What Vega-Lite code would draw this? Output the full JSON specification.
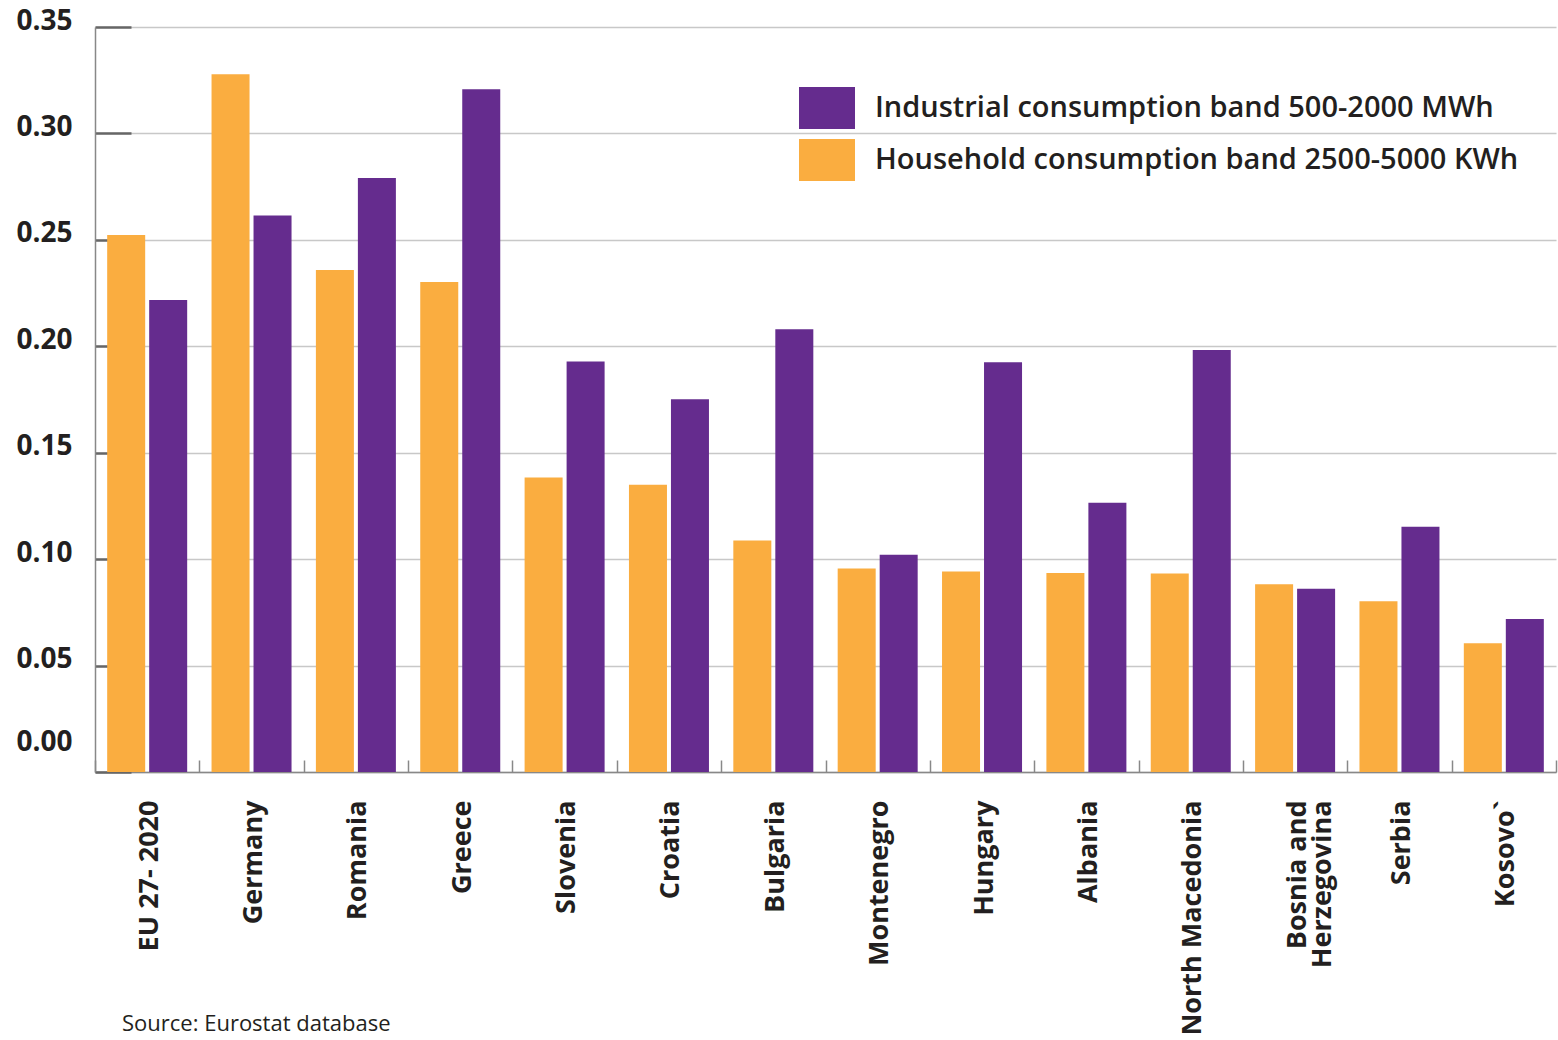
{
  "$schema": "https://vega.github.io/schema/vega-lite/v6.json",
  "width": 1461,
  "height": 745,
  "autosize": {"type": "none"},
  "padding": {"left": 95, "top": 27, "right": 2, "bottom": 268},
  "background": "#ffffff",
  "title": {
    "text": "Source: Eurostat database",
    "orient": "bottom",
    "anchor": "start",
    "frame": "group",
    "dx": 27,
    "offset": -21,
    "font": "Open Sans",
    "fontSize": 22,
    "fontWeight": "normal",
    "color": "#231f20",
    "baseline": "top"
  },
  "data": {
    "values": [
      {"country": "EU 27- 2020", "band": "Household consumption band 2500-5000 KWh", "value": 0.2523},
      {"country": "EU 27- 2020", "band": "Industrial consumption band 500-2000 MWh", "value": 0.2217},
      {"country": "Germany", "band": "Household consumption band 2500-5000 KWh", "value": 0.3278},
      {"country": "Germany", "band": "Industrial consumption band 500-2000 MWh", "value": 0.2614},
      {"country": "Romania", "band": "Household consumption band 2500-5000 KWh", "value": 0.2358},
      {"country": "Romania", "band": "Industrial consumption band 500-2000 MWh", "value": 0.2791},
      {"country": "Greece", "band": "Household consumption band 2500-5000 KWh", "value": 0.2302},
      {"country": "Greece", "band": "Industrial consumption band 500-2000 MWh", "value": 0.3207},
      {"country": "Slovenia", "band": "Household consumption band 2500-5000 KWh", "value": 0.1384},
      {"country": "Slovenia", "band": "Industrial consumption band 500-2000 MWh", "value": 0.1929},
      {"country": "Croatia", "band": "Household consumption band 2500-5000 KWh", "value": 0.135},
      {"country": "Croatia", "band": "Industrial consumption band 500-2000 MWh", "value": 0.1751},
      {"country": "Bulgaria", "band": "Household consumption band 2500-5000 KWh", "value": 0.1088},
      {"country": "Bulgaria", "band": "Industrial consumption band 500-2000 MWh", "value": 0.208},
      {"country": "Montenegro", "band": "Household consumption band 2500-5000 KWh", "value": 0.0956},
      {"country": "Montenegro", "band": "Industrial consumption band 500-2000 MWh", "value": 0.1021},
      {"country": "Hungary", "band": "Household consumption band 2500-5000 KWh", "value": 0.0942},
      {"country": "Hungary", "band": "Industrial consumption band 500-2000 MWh", "value": 0.1925},
      {"country": "Albania", "band": "Household consumption band 2500-5000 KWh", "value": 0.0935},
      {"country": "Albania", "band": "Industrial consumption band 500-2000 MWh", "value": 0.1265},
      {"country": "North Macedonia", "band": "Household consumption band 2500-5000 KWh", "value": 0.0933},
      {"country": "North Macedonia", "band": "Industrial consumption band 500-2000 MWh", "value": 0.1983},
      {"country": "Bosnia and Herzegovina", "band": "Household consumption band 2500-5000 KWh", "value": 0.0882},
      {"country": "Bosnia and Herzegovina", "band": "Industrial consumption band 500-2000 MWh", "value": 0.0861},
      {"country": "Serbia", "band": "Household consumption band 2500-5000 KWh", "value": 0.0802},
      {"country": "Serbia", "band": "Industrial consumption band 500-2000 MWh", "value": 0.1152},
      {"country": "Kosovo`", "band": "Household consumption band 2500-5000 KWh", "value": 0.0605},
      {"country": "Kosovo`", "band": "Industrial consumption band 500-2000 MWh", "value": 0.0719}
    ]
  },
  "mark": {"type": "bar"},
  "encoding": {
    "x": {
      "field": "country",
      "type": "nominal",
      "sort": null,
      "scale": {"paddingInner": 0, "paddingOuter": 0},
      "axis": {
        "title": null,
        "labelAngle": -90,
        "labelAlign": "right",
        "labelBaseline": "middle",
        "labelFont": "Open Sans",
        "labelFontSize": 27,
        "labelFontWeight": "bold",
        "labelColor": "#231f20",
        "labelPadding": 40,
        "labelLineHeight": 25,
        "labelOffset": 2,
        "labelExpr": "datum.value == 'Bosnia and Herzegovina' ? ['Bosnia and', 'Herzegovina'] : datum.value",
        "tickBand": "extent",
        "tickSize": -12,
        "tickColor": "#888888",
        "tickWidth": 1.5,
        "domainColor": "#888888",
        "domainWidth": 1.5,
        "grid": false
      }
    },
    "xOffset": {
      "field": "band",
      "type": "nominal",
      "scale": {
        "domain": ["Household consumption band 2500-5000 KWh", "Industrial consumption band 500-2000 MWh"],
        "paddingInner": 0.095,
        "paddingOuter": 0.29
      }
    },
    "y": {
      "field": "value",
      "type": "quantitative",
      "scale": {"domain": [0, 0.35], "nice": false},
      "axis": {
        "title": null,
        "values": [0, 0.05, 0.1, 0.15, 0.2, 0.25, 0.3, 0.35],
        "format": ".2f",
        "labelFont": "Open Sans",
        "labelFontSize": 28,
        "labelFontWeight": "bold",
        "labelColor": "#231f20",
        "labelPadding": 59,
        "labelOffset": {"condition": {"test": "datum.value == 0", "value": -30}, "value": -6},
        "tickSize": -36,
        "tickColor": "#666666",
        "tickWidth": 2.5,
        "domainColor": "#888888",
        "domainWidth": 1.5,
        "gridColor": "#c8c8c8",
        "gridWidth": 1.5
      }
    },
    "color": {
      "field": "band",
      "type": "nominal",
      "scale": {
        "domain": ["Industrial consumption band 500-2000 MWh", "Household consumption band 2500-5000 KWh"],
        "range": ["#652c8e", "#faad40"]
      },
      "legend": {
        "title": null,
        "orient": "none",
        "legendX": 704,
        "legendY": 53,
        "padding": 0,
        "symbolType": "M-1,-0.75H1V0.75H-1Z",
        "symbolSize": 3136,
        "symbolStrokeWidth": 0,
        "symbolOpacity": 1,
        "labelFont": "Open Sans",
        "labelFontSize": 29,
        "labelFontWeight": 600,
        "labelColor": "#231f20",
        "labelOffset": 20,
        "labelLimit": 800,
        "rowPadding": 3
      }
    }
  },
  "config": {
    "view": {"stroke": null},
    "axis": {"labelLimit": 400}
  }
}
